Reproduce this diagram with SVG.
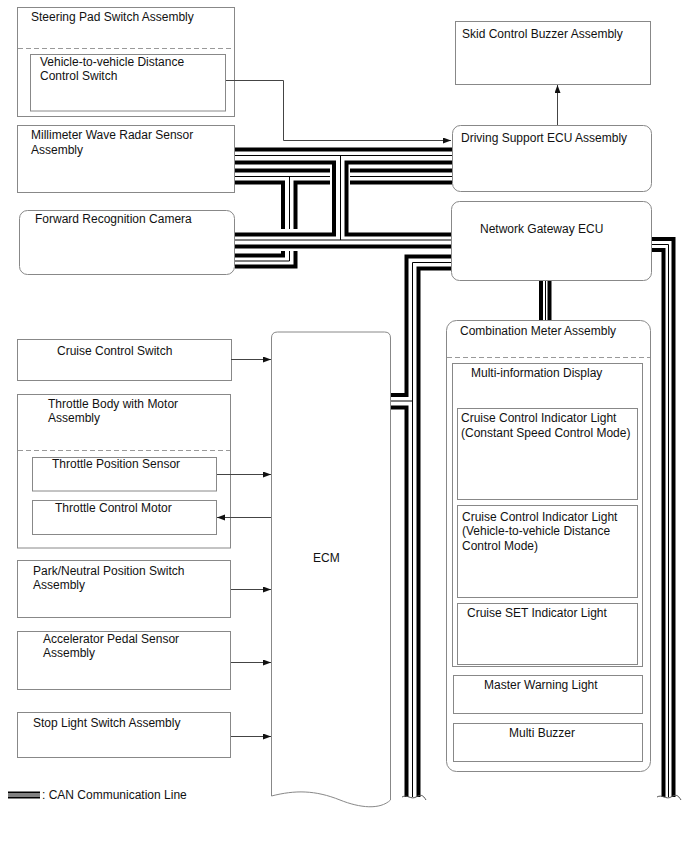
<svg xmlns="http://www.w3.org/2000/svg" width="688" height="852" viewBox="0 0 688 852">
<style>
text{font-family:"Liberation Sans",Arial,sans-serif;font-size:12px;fill:#111}
.b{fill:#fff;stroke:#888;stroke-width:1}
.d{fill:none;stroke:#999;stroke-width:1;stroke-dasharray:5 3}
.a{fill:none;stroke:#444;stroke-width:1}
.ck{fill:none;stroke:#000;stroke-width:4}
.cn{fill:none;stroke:#000;stroke-width:1}
.w{fill:none;stroke:#555;stroke-width:1}
</style>
<defs>
<marker id="ah" markerUnits="userSpaceOnUse" markerWidth="9" markerHeight="7" refX="8" refY="3" orient="auto">
<path d="M0,0 L8,3 L0,6 z" fill="#111"/>
</marker>
</defs>
<rect width="688" height="852" fill="#fff"/>

<g id="steering-pad">
<rect class="b" x="17.5" y="7.5" width="217" height="109"/>
<line class="d" x1="18" y1="48.5" x2="234" y2="48.5"/>
<text x="31" y="21">Steering Pad Switch Assembly</text>
<g id="distance-switch">
<rect class="b" x="30.5" y="54.5" width="195" height="56.5"/>
<text x="40" y="66">Vehicle-to-vehicle Distance</text>
<text x="40" y="80">Control Switch</text>
</g>
</g>

<g id="radar">
<rect class="b" x="17.5" y="125.5" width="217" height="67"/>
<text x="31" y="139">Millimeter Wave Radar Sensor</text>
<text x="31" y="154">Assembly</text>
</g>

<g id="camera">
<rect class="b" x="19.5" y="210.5" width="215" height="64" rx="8"/>
<text x="35" y="223">Forward Recognition Camera</text>
</g>

<g id="skid-buzzer">
<rect class="b" x="455.5" y="21.5" width="195" height="63"/>
<text x="462" y="38">Skid Control Buzzer Assembly</text>
</g>

<g id="driving-support">
<rect class="b" x="452.5" y="125.5" width="199" height="66" rx="8"/>
<text x="461" y="142">Driving Support ECU Assembly</text>
</g>

<g id="gateway">
<rect class="b" x="451.5" y="201.5" width="200" height="79" rx="8"/>
<text x="480" y="233">Network Gateway ECU</text>
</g>

<g id="cruise-switch">
<rect class="b" x="17.5" y="339.5" width="214" height="41"/>
<text x="57" y="355">Cruise Control Switch</text>
</g>

<g id="throttle-body">
<rect class="b" x="17.5" y="394.5" width="213" height="153.5"/>
<line class="d" x1="18" y1="450.5" x2="230" y2="450.5"/>
<text x="48" y="408">Throttle Body with Motor</text>
<text x="48" y="422">Assembly</text>
<g id="tps">
<rect class="b" x="32.5" y="457.5" width="184" height="33.5"/>
<text x="52" y="468">Throttle Position Sensor</text>
</g>
<g id="tcm">
<rect class="b" x="32.5" y="500.5" width="184" height="34"/>
<text x="55" y="512">Throttle Control Motor</text>
</g>
</g>

<g id="park-neutral">
<rect class="b" x="17.5" y="560.5" width="213" height="57"/>
<text x="33" y="575">Park/Neutral Position Switch</text>
<text x="33" y="589">Assembly</text>
</g>

<g id="accelerator">
<rect class="b" x="17.5" y="631.5" width="213" height="58"/>
<text x="43" y="643">Accelerator Pedal Sensor</text>
<text x="43" y="657">Assembly</text>
</g>

<g id="stop-light">
<rect class="b" x="17.5" y="712.5" width="213" height="45"/>
<text x="33" y="727">Stop Light Switch Assembly</text>
</g>

<g id="ecm">
<path class="b" d="M271.5,796 V338 Q271.5,332 277.5,332 H384.5 Q390.5,332 390.5,338 V800 C380,810 360,808 340,800 C315,790 295,790 271.5,796 Z"/>
<text x="313" y="562">ECM</text>
</g>

<g id="combination-meter">
<rect class="b" x="446.5" y="320.5" width="204" height="451" rx="10"/>
<line class="d" x1="447" y1="357.5" x2="650" y2="357.5"/>
<text x="460" y="335">Combination Meter Assembly</text>
<g id="mid">
<rect class="b" x="452.5" y="363.5" width="190" height="303"/>
<text x="471" y="377">Multi-information Display</text>
<g id="ccil-constant">
<rect class="b" x="457.5" y="408.5" width="180" height="91"/>
<text x="461" y="422">Cruise Control Indicator Light</text>
<text x="461" y="436.5">(Constant Speed Control Mode)</text>
</g>
<g id="ccil-distance">
<rect class="b" x="457.5" y="505.5" width="180" height="92"/>
<text x="462" y="521">Cruise Control Indicator Light</text>
<text x="462" y="535">(Vehicle-to-vehicle Distance</text>
<text x="462" y="549.5">Control Mode)</text>
</g>
<g id="set-light">
<rect class="b" x="457.5" y="603.5" width="180" height="61"/>
<text x="467" y="617">Cruise SET Indicator Light</text>
</g>
</g>
<g id="master-warning">
<rect class="b" x="453.5" y="675.5" width="189" height="38"/>
<text x="484" y="689">Master Warning Light</text>
</g>
<g id="multi-buzzer">
<rect class="b" x="453.5" y="723.5" width="189" height="38"/>
<text x="509" y="737">Multi Buzzer</text>
</g>
</g>

<g id="connectors">
<path class="a" d="M226,80.5 H283.5 V140.5 H451" marker-end="url(#ah)"/>
<path class="a" d="M557.5,125 V85" marker-end="url(#ah)"/>
<path class="a" d="M231,359.5 H271" marker-end="url(#ah)"/>
<path class="a" d="M217,474.5 H271" marker-end="url(#ah)"/>
<path class="a" d="M271,517.5 H217" marker-end="url(#ah)"/>
<path class="a" d="M231,589.5 H271" marker-end="url(#ah)"/>
<path class="a" d="M231,662.5 H271" marker-end="url(#ah)"/>
<path class="a" d="M231,736.5 H271" marker-end="url(#ah)"/>

<g id="can-lines">
<path class="ck" d="M235,149.5 H452"/>
<path class="cn" d="M235,155.5 H452"/>
<path class="ck" d="M235,162.5 H334 V234.5 H235"/>
<path class="ck" d="M452,162.5 H346.5 V234.5 H451"/>
<path class="cn" d="M340.5,155.5 V240"/>

<path class="ck" d="M235,170.5 H330 M350,170.5 H452 M350,182.5 H452"/>
<path class="cn" d="M235,176.5 H330 M350,176.5 H452"/>
<path class="ck" d="M235,182.5 H283 V229 M283,251 V255.5 H235"/>
<path class="ck" d="M330,182.5 H295.5 V229 M295.5,251 V266.5 H235"/>
<path class="cn" d="M289.5,176.5 V229 M289.5,251 V261 H235"/>

<path class="cn" d="M235,240 H451"/>
<path class="ck" d="M235,246.5 H451"/>

<path class="ck" d="M451,256.5 H406.5 V395 H391 M391,407.5 H406.5 V797"/>
<path class="cn" d="M451,262.5 H412.5 V797 M412.5,401 H391"/>
<path class="ck" d="M451,268.5 H418.5 V797"/>
<path class="w" d="M402,797 C407,794 411,800 416,797 S423,795 426,800"/>

<path class="ck" d="M652,239 H673.5 V797"/>
<path class="cn" d="M652,244.5 H668.5 V797"/>
<path class="ck" d="M652,250 H663.5 V797"/>
<path class="w" d="M657,797 C662,794 666,800 671,797 S678,795 681,800"/>

<path class="ck" d="M541,281 V320"/>
<path class="cn" d="M545.5,281 V320"/>
<path class="ck" d="M549.5,281 V320"/>
</g>
</g>

<g id="legend">
<path d="M8,792.5 H40" stroke="#000" stroke-width="2"/>
<path d="M8,795 H40" stroke="#000" stroke-width="1"/>
<path d="M8,797.5 H40" stroke="#000" stroke-width="2"/>
<text x="42" y="799">: CAN Communication Line</text>
</g>
</svg>
